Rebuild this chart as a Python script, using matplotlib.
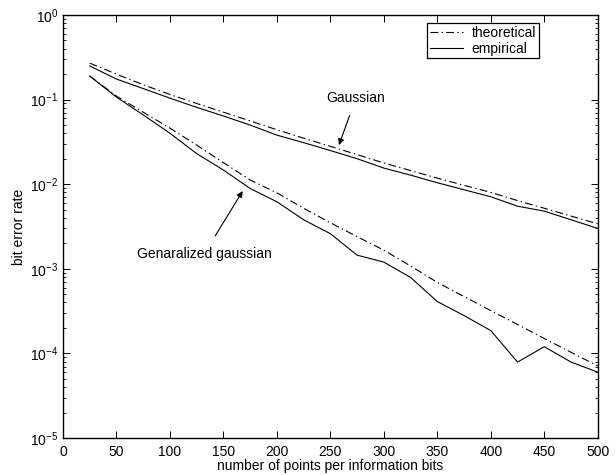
import matplotlib.pyplot as plt
from matplotlib.ticker import LogLocator, NullFormatter

plt.rcParams['font.family'] = ['Liberation Sans', 'DejaVu Sans']
plt.rcParams['mathtext.fontset'] = 'custom'
plt.rcParams['mathtext.rm'] = 'Liberation Sans'
plt.rcParams['mathtext.it'] = 'Liberation Sans:italic'

# Data
n_points = [25, 50, 75, 100, 125, 150, 175, 200, 225, 250,
            275, 300, 325, 350, 375, 400, 425, 450, 475, 500]

gauss_theo = [0.27, 0.20, 0.15, 0.115, 0.09, 0.071, 0.056, 0.044, 0.035, 0.028,
              0.0224, 0.0178, 0.0145, 0.0118, 0.0097, 0.0080, 0.0064, 0.0052, 0.0042, 0.0034]
gauss_emp = [0.25, 0.175, 0.135, 0.104, 0.081, 0.064, 0.050, 0.038, 0.031, 0.025,
             0.020, 0.0155, 0.0128, 0.0104, 0.0086, 0.0071, 0.0055, 0.0048, 0.0038, 0.0030]

gen_theo = [0.19, 0.11, 0.071, 0.046, 0.029, 0.018, 0.0112, 0.0079, 0.0052, 0.0035,
            0.0024, 0.00166, 0.00108, 0.00069, 0.00047, 0.00032, 0.00022, 0.00015, 0.000103, 0.000071]
gen_emp = [0.19, 0.107, 0.066, 0.040, 0.023, 0.0147, 0.0089, 0.0062, 0.0038, 0.0026,
           0.00145, 0.0012, 0.00079, 0.00041, 0.00028, 0.000186, 0.000079, 0.00012, 0.000079, 0.00006]

dashdot = (0, (7, 3, 1.2, 3))

fig = plt.figure(figsize=(6.15, 4.75), dpi=100)
ax = fig.add_axes([0.1024, 0.0779, 0.8696, 0.8905])

ax.semilogy(n_points, gauss_theo, color='black', linestyle=dashdot, linewidth=0.8, label='theoretical')
ax.semilogy(n_points, gauss_emp, color='black', linestyle='-', linewidth=0.8, label='empirical')
ax.semilogy(n_points, gen_theo, color='black', linestyle=dashdot, linewidth=0.8)
ax.semilogy(n_points, gen_emp, color='black', linestyle='-', linewidth=0.8)

ax.set_xlim(0, 500)
ax.set_ylim(1e-5, 1e0)
ax.set_xticks(range(0, 501, 50))
ax.yaxis.set_major_locator(LogLocator(base=10, numticks=10))
ax.yaxis.set_minor_locator(LogLocator(base=10, subs=range(2, 10), numticks=20))
ax.yaxis.set_minor_formatter(NullFormatter())

ax.tick_params(which='both', direction='in', top=True, right=True, labelsize=10)
ax.tick_params(which='major', length=5, width=0.7)
ax.tick_params(which='minor', length=2.5, width=0.6)
ax.tick_params(axis='x', which='major', pad=5)
for s in ax.spines.values():
    s.set_linewidth(1.0)

ax.set_xlabel('number of points per information bits', fontsize=10, labelpad=0)
ax.set_ylabel('bit error rate', fontsize=10, labelpad=3)

ax.annotate('Gaussian', xy=(258, 0.029), xytext=(274, 0.105), fontsize=10,
            ha='center', va='center',
            arrowprops=dict(arrowstyle='-|>', color='black', lw=0.8, shrinkA=6, shrinkB=0,
                            mutation_scale=9))
ax.annotate('Genaralized gaussian', xy=(168, 0.0083), xytext=(132, 0.0015), fontsize=10,
            ha='center', va='center',
            arrowprops=dict(arrowstyle='-|>', color='black', lw=0.8, shrinkA=7, shrinkB=0,
                            mutation_scale=9))

leg = ax.legend(loc='upper right', bbox_to_anchor=(0.89, 0.98), fontsize=10, frameon=True,
                fancybox=False, edgecolor='black', framealpha=1, handlelength=2.4,
                borderpad=0.2, labelspacing=0.1, handletextpad=0.6, borderaxespad=0)
leg.get_frame().set_linewidth(0.9)

fig.savefig('out.png', dpi=100)
